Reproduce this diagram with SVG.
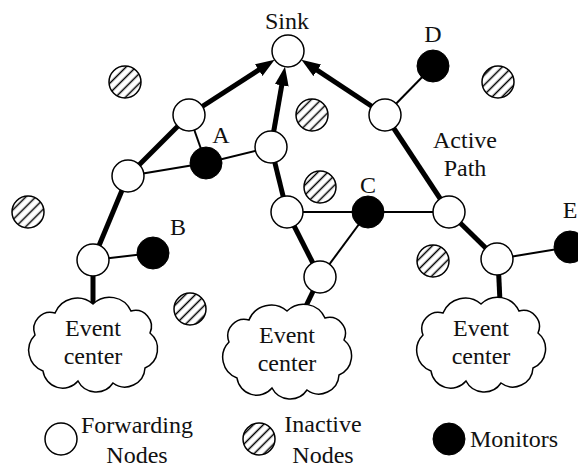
<svg xmlns="http://www.w3.org/2000/svg" width="578" height="472" viewBox="0 0 578 472">
<style>
.thick{stroke:#000;stroke-width:5;fill:none}
.thin{stroke:#000;stroke-width:2;fill:none}
.fwd{fill:#fff;stroke:#000;stroke-width:1.5}
.mon{fill:#000;stroke:#000;stroke-width:1}
.inact{fill:url(#hatch);stroke:#000;stroke-width:1.5}
.cloud{fill:#fff;stroke:#000;stroke-width:1.5}
text{font-family:"Liberation Serif","Times New Roman",serif;font-size:24px;fill:#111}
.c{text-anchor:middle}
</style>
<defs>
<pattern id="hatch" width="7" height="7" patternUnits="userSpaceOnUse" patternTransform="rotate(45)">
<rect width="7" height="7" fill="#fff"/>
<line x1="3.5" y1="0" x2="3.5" y2="7" stroke="#000" stroke-width="1.5"/>
</pattern>
<marker id="arrow" markerUnits="userSpaceOnUse" markerWidth="20" markerHeight="15" refX="8" refY="7" orient="auto">
<path d="M0,0 L19,7 L0,14 z" fill="#000"/>
</marker>
<path id="cloudShape" d="M0,-39 A23.6,23.6 0 0 1 38,-32 A16.1,16.1 0 0 1 57,-10 A20.7,20.7 0 0 1 52,25 A20.1,20.1 0 0 1 20,40 A20.4,20.4 0 0 1 -15,38 A19.9,19.9 0 0 1 -50,28 A22,22 0 0 1 -58,-8 A16.6,16.6 0 0 1 -38,-30 A24,24 0 0 1 0,-39 Z"/>
</defs>
<rect width="578" height="472" fill="#fff"/>

<g id="connectors">
<line class="thick" x1="189" y1="115" x2="265.4" y2="65.7" marker-end="url(#arrow)"/>
<line class="thick" x1="271" y1="147" x2="283.1" y2="77.5" marker-end="url(#arrow)"/>
<line class="thick" x1="385" y1="115" x2="310.6" y2="65.9" marker-end="url(#arrow)"/>
<line class="thick" x1="93" y1="260" x2="128" y2="176"/>
<line class="thick" x1="128" y1="176" x2="189" y2="115"/>
<line class="thick" x1="93" y1="260" x2="93" y2="308"/>
<line class="thick" x1="287" y1="212" x2="271" y2="147"/>
<line class="thick" x1="320" y1="277" x2="287" y2="212"/>
<line class="thick" x1="320" y1="277" x2="305" y2="308"/>
<line class="thick" x1="449" y1="212" x2="385" y2="115"/>
<line class="thick" x1="497" y1="259" x2="449" y2="212"/>
<line class="thick" x1="498" y1="259" x2="500" y2="302"/>
<line class="thin" x1="189" y1="115" x2="206" y2="163"/>
<line class="thin" x1="128" y1="176" x2="206" y2="163"/>
<line class="thin" x1="206" y1="163" x2="271" y2="147"/>
<line class="thin" x1="93" y1="260" x2="153" y2="253"/>
<line class="thin" x1="287" y1="212" x2="449" y2="212"/>
<line class="thin" x1="368" y1="212" x2="320" y2="277"/>
<line class="thin" x1="385" y1="115" x2="433" y2="66"/>
<line class="thin" x1="497" y1="259" x2="570" y2="247"/>
</g>

<g id="cloud1"><use href="#cloudShape" class="cloud" transform="translate(93,343)"/><text class="c" x="93" y="336">Event</text><text class="c" x="93" y="364">center</text></g>
<g id="cloud2"><use href="#cloudShape" class="cloud" transform="translate(287,350)"/><text class="c" x="287" y="343">Event</text><text class="c" x="287" y="371">center</text></g>
<g id="cloud3"><use href="#cloudShape" class="cloud" transform="translate(481,343)"/><text class="c" x="481" y="336">Event</text><text class="c" x="481" y="364">center</text></g>

<g id="sink"><circle class="fwd" cx="288" cy="51" r="16"/><text class="c" x="287" y="29">Sink</text></g>
<g id="n1"><circle class="fwd" cx="189" cy="115" r="16"/></g>
<g id="n2"><circle class="fwd" cx="128" cy="176" r="16"/></g>
<g id="n3"><circle class="fwd" cx="271" cy="147" r="16"/></g>
<g id="n4"><circle class="fwd" cx="287" cy="212" r="16"/></g>
<g id="n5"><circle class="fwd" cx="93" cy="260" r="16"/></g>
<g id="n6"><circle class="fwd" cx="449" cy="212" r="16"/></g>
<g id="n7"><circle class="fwd" cx="385" cy="115" r="16"/></g>
<g id="n8"><circle class="fwd" cx="320" cy="277" r="16"/></g>
<g id="n9"><circle class="fwd" cx="497" cy="259" r="16"/></g>

<g id="monA"><circle class="mon" cx="206" cy="163" r="16"/><text class="c" x="221" y="143">A</text></g>
<g id="monB"><circle class="mon" cx="153" cy="253" r="16"/><text class="c" x="178" y="235">B</text></g>
<g id="monC"><circle class="mon" cx="368" cy="212" r="16"/><text class="c" x="368" y="193">C</text></g>
<g id="monD"><circle class="mon" cx="433" cy="66" r="16"/><text class="c" x="433" y="42">D</text></g>
<g id="monE"><circle class="mon" cx="570" cy="247" r="16"/><text class="c" x="570" y="218">E</text></g>

<g id="inactive">
<circle class="inact" cx="125" cy="82" r="16"/>
<circle class="inact" cx="28" cy="212" r="16"/>
<circle class="inact" cx="190" cy="309" r="16"/>
<circle class="inact" cx="312" cy="115" r="16"/>
<circle class="inact" cx="320" cy="187" r="16"/>
<circle class="inact" cx="498" cy="82" r="16"/>
<circle class="inact" cx="433" cy="261" r="16"/>
</g>

<g id="activePathLabel"><text class="c" x="465" y="148">Active</text><text class="c" x="465" y="176">Path</text></g>

<g id="legend">
<circle class="fwd" cx="61" cy="439" r="16"/>
<text class="c" x="137" y="433">Forwarding</text><text class="c" x="137" y="463">Nodes</text>
<circle class="inact" cx="259" cy="439" r="16"/>
<text class="c" x="323" y="432">Inactive</text><text class="c" x="323" y="463">Nodes</text>
<circle class="mon" cx="449" cy="439" r="16"/>
<text x="470" y="447">Monitors</text>
</g>
</svg>
